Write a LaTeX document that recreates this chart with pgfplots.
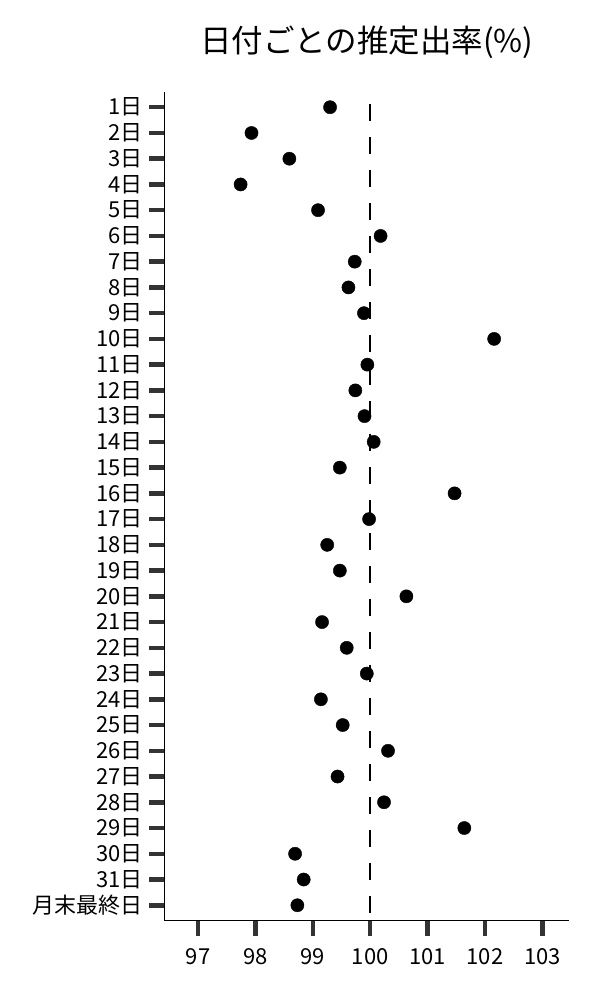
\documentclass[border=0pt]{standalone}
\usepackage{fontspec}
\setmainfont{Noto Sans CJK JP}
\usepackage{pgfplots}
\usepackage{pgfplotstable}
\pgfplotsset{compat=1.18}
\definecolor{tickgray}{HTML}{333333}
\pgfplotstableread{
x y
99.30 31
97.93 30
98.59 29
97.74 28
99.09 27
100.18 26
99.73 25
99.62 24
99.89 23
102.16 22
99.95 21
99.74 20
99.90 19
100.06 18
99.47 17
101.47 16
99.98 15
99.25 14
99.47 13
100.63 12
99.16 11
99.59 10
99.94 9
99.14 8
99.52 7
100.31 6
99.43 5
100.24 4
101.64 3
98.69 2
98.84 1
98.73 0
}\datatable
\begin{document}
\begin{tikzpicture}
\path[use as bounding box] (-164.3pt,-79.3pt) rectangle (435.7pt,920.7pt);
\begin{axis}[
  at={(0pt,0pt)}, anchor=south west,
  scale only axis, width=405pt, height=828.4pt,
  xmin=96.41, xmax=103.47, ymin=-0.6, ymax=31.58,
  axis x line*=bottom, axis y line*=left,
  axis line style={line width=1.3pt, black},
  xtick={97,98,99,100,101,102,103},
  ytick={0,...,31},
  yticklabels={月末最終日,31日,30日,29日,28日,27日,26日,25日,24日,23日,22日,21日,20日,19日,18日,17日,16日,15日,14日,13日,12日,11日,10日,9日,8日,7日,6日,5日,4日,3日,2日,1日},
  tick align=outside, major tick length=15pt,
  tick style={line width=4.5pt, color=tickgray},
  /pgf/number format/assume math mode=true,
  ticklabel style={font=\fontsize{22}{26}\selectfont, black},
  xticklabel style={yshift=-9pt},
  yticklabel style={xshift=-3pt},
  clip=false,
]
\addplot[black, line width=2.5pt, dash pattern=on 17pt off 16pt] coordinates {(100,31.13) (100,-0.6)};
\addplot[only marks, mark=*, mark size=6.6pt, black] table[x=x, y=y] {\datatable};
\node[font=\fontsize{31.5}{37}\selectfont] at (rel axis cs:0.5,1) [yshift=50pt] {日付ごとの推定出率(\%)};
\end{axis}
\end{tikzpicture}
\end{document}
